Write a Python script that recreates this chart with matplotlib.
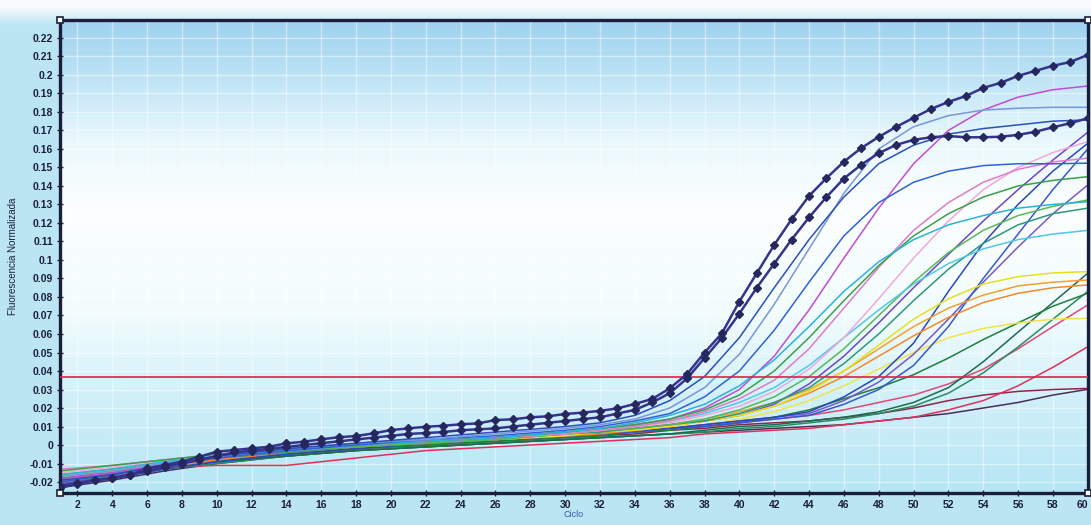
import matplotlib
matplotlib.use("Agg")
import matplotlib.pyplot as plt
import numpy as np

cycles = [1, 4, 7, 10, 14, 18, 22, 26, 30, 32, 34, 36, 38, 40, 42, 44, 46, 48, 50, 52, 54, 56, 58, 60]

# the two highlighted (marker) samples, one value per cycle 1..60
marker_cycles = list(range(1, 61))
sample_a = [-0.022, -0.0207, -0.0189, -0.018, -0.0162, -0.0126, -0.0108, -0.009, -0.0063, -0.0036,
            -0.0027, -0.0018, -0.0009, 0.0009, 0.0018, 0.0031, 0.0042, 0.0049, 0.0063, 0.0081,
            0.009, 0.0099, 0.0104, 0.0112, 0.0117, 0.0135, 0.0139, 0.015, 0.0155, 0.0168,
            0.0175, 0.0185, 0.0198, 0.0222, 0.0249, 0.0306, 0.0384, 0.0499, 0.0604, 0.0775,
            0.0928, 0.1081, 0.122, 0.1346, 0.1442, 0.1531, 0.1605, 0.1665, 0.1719, 0.1768,
            0.1816, 0.1854, 0.1886, 0.193, 0.1957, 0.1995, 0.2022, 0.2049, 0.207, 0.2108]
sample_b = [-0.023, -0.021, -0.019, -0.018, -0.016, -0.014, -0.012, -0.010, -0.008, -0.006,
            -0.004, -0.003, -0.002, -0.001, 0.000, 0.001, 0.002, 0.003, 0.004, 0.005,
            0.006, 0.0065, 0.007, 0.008, 0.0085, 0.009, 0.010, 0.011, 0.012, 0.013,
            0.014, 0.015, 0.017, 0.019, 0.023, 0.028, 0.036, 0.047, 0.058, 0.071,
            0.085, 0.098, 0.111, 0.123, 0.134, 0.144, 0.1515, 0.1577, 0.1622, 0.1649,
            0.1663, 0.167, 0.1663, 0.1663, 0.1666, 0.1676, 0.1693, 0.1717, 0.1739, 0.1766]

blue_1 = [-0.019, -0.016, -0.011, -0.006, -0.002, 0.001, 0.004, 0.007, 0.010, 0.012, 0.016, 0.024,
          0.037, 0.058, 0.085, 0.111, 0.134, 0.152, 0.162, 0.168, 0.171, 0.173, 0.175, 0.1757]
steel_blue = [-0.017, -0.014, -0.010, -0.006, -0.002, 0.001, 0.003, 0.006, 0.009, 0.011, 0.014, 0.020,
              0.031, 0.049, 0.076, 0.106, 0.136, 0.160, 0.172, 0.178, 0.181, 0.182, 0.1825, 0.1825]
blue_2 = [-0.020, -0.016, -0.011, -0.007, -0.003, 0.000, 0.003, 0.005, 0.008, 0.010, 0.013, 0.017,
          0.026, 0.040, 0.062, 0.088, 0.113, 0.131, 0.142, 0.148, 0.151, 0.152, 0.152, 0.1523]
cyan_1 = [-0.016, -0.013, -0.009, -0.006, -0.003, 0.000, 0.002, 0.004, 0.007, 0.009, 0.012, 0.016,
          0.022, 0.032, 0.046, 0.064, 0.083, 0.099, 0.111, 0.119, 0.124, 0.128, 0.130, 0.1315]
green_1 = [-0.014, -0.011, -0.008, -0.005, -0.002, 0.000, 0.002, 0.004, 0.007, 0.009, 0.011, 0.014,
           0.019, 0.027, 0.040, 0.058, 0.078, 0.097, 0.113, 0.125, 0.134, 0.140, 0.143, 0.145]
pink_1 = [-0.013, -0.011, -0.008, -0.005, -0.002, 0.000, 0.002, 0.004, 0.006, 0.008, 0.010, 0.013,
          0.018, 0.025, 0.035, 0.052, 0.074, 0.096, 0.116, 0.131, 0.142, 0.149, 0.153, 0.155]
magenta = [-0.018, -0.015, -0.010, -0.007, -0.003, 0.000, 0.002, 0.004, 0.007, 0.009, 0.011, 0.014,
           0.020, 0.030, 0.048, 0.073, 0.101, 0.128, 0.152, 0.170, 0.181, 0.188, 0.192, 0.194]
pink_2 = [-0.015, -0.012, -0.009, -0.006, -0.003, 0.000, 0.002, 0.004, 0.006, 0.008, 0.010, 0.012,
          0.016, 0.021, 0.029, 0.041, 0.058, 0.079, 0.101, 0.121, 0.138, 0.150, 0.158, 0.164]
cyan_2 = [-0.017, -0.014, -0.010, -0.006, -0.003, 0.000, 0.002, 0.004, 0.007, 0.008, 0.010, 0.013,
          0.017, 0.023, 0.031, 0.043, 0.058, 0.073, 0.087, 0.098, 0.106, 0.111, 0.114, 0.116]
green_2 = [-0.016, -0.013, -0.009, -0.006, -0.003, -0.001, 0.001, 0.003, 0.006, 0.008, 0.009, 0.011,
           0.014, 0.019, 0.026, 0.037, 0.052, 0.070, 0.088, 0.104, 0.116, 0.124, 0.129, 0.1324]
teal_1 = [-0.018, -0.015, -0.011, -0.007, -0.004, -0.001, 0.001, 0.003, 0.006, 0.007, 0.009, 0.011,
          0.013, 0.017, 0.023, 0.031, 0.044, 0.060, 0.078, 0.095, 0.109, 0.119, 0.125, 0.128]
yellow_1 = [-0.017, -0.014, -0.010, -0.006, -0.003, 0.000, 0.002, 0.003, 0.005, 0.007, 0.008, 0.010,
            0.013, 0.016, 0.021, 0.029, 0.040, 0.054, 0.068, 0.079, 0.087, 0.091, 0.093, 0.0937]
orange_1 = [-0.019, -0.015, -0.011, -0.007, -0.003, 0.000, 0.002, 0.004, 0.006, 0.007, 0.009, 0.011,
            0.014, 0.018, 0.023, 0.030, 0.040, 0.052, 0.064, 0.074, 0.081, 0.086, 0.088, 0.0892]
orange_2 = [-0.020, -0.016, -0.012, -0.008, -0.004, -0.001, 0.001, 0.003, 0.005, 0.006, 0.008, 0.010,
            0.013, 0.016, 0.021, 0.028, 0.037, 0.048, 0.059, 0.069, 0.077, 0.082, 0.085, 0.0865]
purple_1 = [-0.021, -0.017, -0.012, -0.008, -0.004, -0.001, 0.001, 0.003, 0.006, 0.007, 0.009, 0.011,
            0.013, 0.016, 0.022, 0.033, 0.048, 0.066, 0.085, 0.103, 0.121, 0.138, 0.154, 0.169]
blue_3 = [-0.022, -0.018, -0.013, -0.009, -0.005, -0.002, 0.001, 0.003, 0.005, 0.006, 0.008, 0.009,
          0.011, 0.013, 0.015, 0.018, 0.026, 0.037, 0.055, 0.083, 0.109, 0.130, 0.148, 0.163]
blue_4 = [-0.020, -0.016, -0.012, -0.008, -0.004, -0.001, 0.001, 0.003, 0.005, 0.006, 0.007, 0.009,
          0.010, 0.012, 0.014, 0.016, 0.022, 0.030, 0.043, 0.064, 0.090, 0.114, 0.138, 0.160]
purple_2 = [-0.019, -0.015, -0.011, -0.008, -0.004, -0.001, 0.001, 0.003, 0.005, 0.006, 0.008, 0.009,
            0.011, 0.013, 0.015, 0.017, 0.024, 0.034, 0.049, 0.068, 0.088, 0.107, 0.125, 0.1405]
yellow_2 = [-0.016, -0.013, -0.009, -0.006, -0.003, 0.000, 0.002, 0.003, 0.005, 0.006, 0.008, 0.009,
            0.011, 0.014, 0.018, 0.024, 0.032, 0.041, 0.050, 0.058, 0.063, 0.066, 0.068, 0.0685]
green_3 = [-0.021, -0.017, -0.012, -0.009, -0.005, -0.002, 0.000, 0.002, 0.004, 0.005, 0.007, 0.008,
           0.010, 0.012, 0.015, 0.019, 0.025, 0.031, 0.038, 0.047, 0.057, 0.066, 0.075, 0.082]
teal_2 = [-0.020, -0.016, -0.012, -0.009, -0.006, -0.003, -0.001, 0.001, 0.003, 0.004, 0.005, 0.006,
          0.008, 0.010, 0.011, 0.013, 0.015, 0.018, 0.023, 0.031, 0.045, 0.061, 0.077, 0.0928]
green_4 = [-0.022, -0.018, -0.013, -0.010, -0.006, -0.003, -0.001, 0.001, 0.003, 0.004, 0.005, 0.006,
           0.007, 0.009, 0.010, 0.012, 0.014, 0.017, 0.021, 0.028, 0.039, 0.053, 0.068, 0.083]
rose = [-0.018, -0.014, -0.010, -0.007, -0.004, -0.001, 0.001, 0.003, 0.005, 0.006, 0.007, 0.009,
        0.010, 0.012, 0.014, 0.016, 0.019, 0.023, 0.027, 0.033, 0.041, 0.052, 0.064, 0.0757]
red_1 = [-0.020, -0.016, -0.012, -0.011, -0.011, -0.007, -0.003, -0.001, 0.001, 0.002, 0.003, 0.004,
         0.006, 0.007, 0.008, 0.009, 0.011, 0.013, 0.015, 0.019, 0.024, 0.032, 0.042, 0.0531]
maroon = [-0.019, -0.015, -0.011, -0.008, -0.005, -0.002, 0.000, 0.002, 0.004, 0.005, 0.006, 0.008,
          0.009, 0.011, 0.012, 0.013, 0.015, 0.017, 0.020, 0.024, 0.027, 0.029, 0.030, 0.0306]
dark_purple = [-0.023, -0.019, -0.014, -0.010, -0.006, -0.003, -0.001, 0.001, 0.003, 0.004, 0.005, 0.006,
               0.007, 0.008, 0.009, 0.010, 0.011, 0.013, 0.015, 0.017, 0.020, 0.023, 0.027, 0.0301]

threshold = 0.0368

curves = [
    (dark_purple, '#4a2e5a'), (maroon, '#8a2848'), (red_1, '#e0305a'), (rose, '#e04878'),
    (green_4, '#2a8a60'), (teal_2, '#1c6c50'), (green_3, '#1f7f3c'), (yellow_2, '#f0e448'),
    (purple_2, '#7a58c8'), (blue_4, '#3858d0'), (blue_3, '#2848b8'), (purple_1, '#6a48c8'),
    (orange_2, '#f5882a'), (orange_1, '#f0a030'), (yellow_1, '#e6e020'), (teal_1, '#2c9a78'),
    (green_2, '#58b858'), (cyan_2, '#50c8e8'), (pink_2, '#f0a8dc'), (magenta, '#c04cd8'),
    (pink_1, '#e07ac8'), (green_1, '#3aa048'), (cyan_1, '#28b4d8'), (blue_2, '#2f62d6'),
    (steel_blue, '#7896d8'), (blue_1, '#2a4fc0'),
]

xticks = list(range(2, 61, 2))
yticks = [round(v, 2) for v in np.arange(-0.02, 0.2201, 0.01)]
ylim = (-0.0259, 0.2297)
font_list = ['Liberation Sans Narrow', 'Liberation Sans', 'DejaVu Sans']

fig = plt.figure(figsize=(10.91, 5.25), dpi=100)

# light blue backdrop with a pale strip at the top
bg = fig.add_axes([0, 0, 1, 1], zorder=-5)
t = np.linspace(0, 1, 300)[:, None]
top = np.array([0.97, 0.985, 0.99])
blue = np.array([0.74, 0.90, 0.96])
w = np.clip((t - 0.012) / 0.035, 0, 1)
bg_img = top * (1 - w[..., None]) + blue * w[..., None]
bg_img = np.repeat(bg_img, 2, axis=1)
bg.imshow(bg_img, aspect='auto', extent=(0, 1, 0, 1))
bg.axis('off')

ax = fig.add_axes([0.055, 0.061, 0.942, 0.901])

# gradient inside the plot area: blue at top, white in the middle, light cyan at the bottom
tv = np.linspace(0, 1, 300)
stops_t = [0.0, 0.12, 0.26, 0.40, 0.62, 0.8, 1.0]
stops_c = np.array([[0.62, 0.82, 0.94], [0.74, 0.89, 0.96], [0.92, 0.975, 0.99],
                    [0.985, 0.997, 1.0], [0.95, 0.99, 0.995], [0.82, 0.94, 0.975],
                    [0.71, 0.90, 0.96]])
col = np.stack([np.interp(tv, stops_t, stops_c[:, k]) for k in range(3)], axis=1)
img = np.repeat(col[:, None, :], 4, axis=1)
ax.imshow(img, aspect='auto', extent=(1, 60, ylim[0], ylim[1]), origin='upper', zorder=0)

ax.grid(True, color='white', lw=1.0, alpha=0.45)

for vals, c in curves:
    ax.plot(cycles, vals, color=c, lw=1.1, zorder=2)

ax.axhline(threshold, color='#e2204e', lw=1.2, zorder=3)

for vals in (sample_b, sample_a):
    ax.plot(marker_cycles, vals, color='#34348e', lw=1.8, marker='D', ms=4.2,
            mfc='#25275e', mec='#25275e', zorder=4)

ax.set_xlim(1, 60)
ax.set_ylim(*ylim)
ax.set_xticks(xticks)
ax.set_yticks(yticks)
ax.set_yticklabels([f"{v:g}" for v in yticks])

tick_fp = matplotlib.font_manager.FontProperties(family=font_list, size=7.5, weight='bold')
for lab in ax.get_xticklabels() + ax.get_yticklabels():
    lab.set_fontproperties(tick_fp)
    lab.set_color('#1a1e3a')
ax.get_xticklabels()[-1].set_horizontalalignment('right')

ax.tick_params(direction='inout', length=4, width=1, color='#1a1e3a', pad=3)
for s in ax.spines.values():
    s.set_color('#1a1e3a')
    s.set_linewidth(2.4)

# little square handles at the corners
ax.plot([1, 1, 60, 60], [ylim[0], ylim[1], ylim[1], ylim[0]], ls='none', marker='s', ms=5,
        mfc='white', mec='#1a1e3a', mew=1.2, clip_on=False, zorder=6)

ax.set_ylabel('Fluorescencia Normalizada', fontsize=7, family=font_list,
              color='#1a1e3a', labelpad=8)
ax.set_xlabel('Ciclo', fontsize=6.5, color='#3a58a8', family=font_list, labelpad=0)

fig.savefig('out.png', dpi=100)
